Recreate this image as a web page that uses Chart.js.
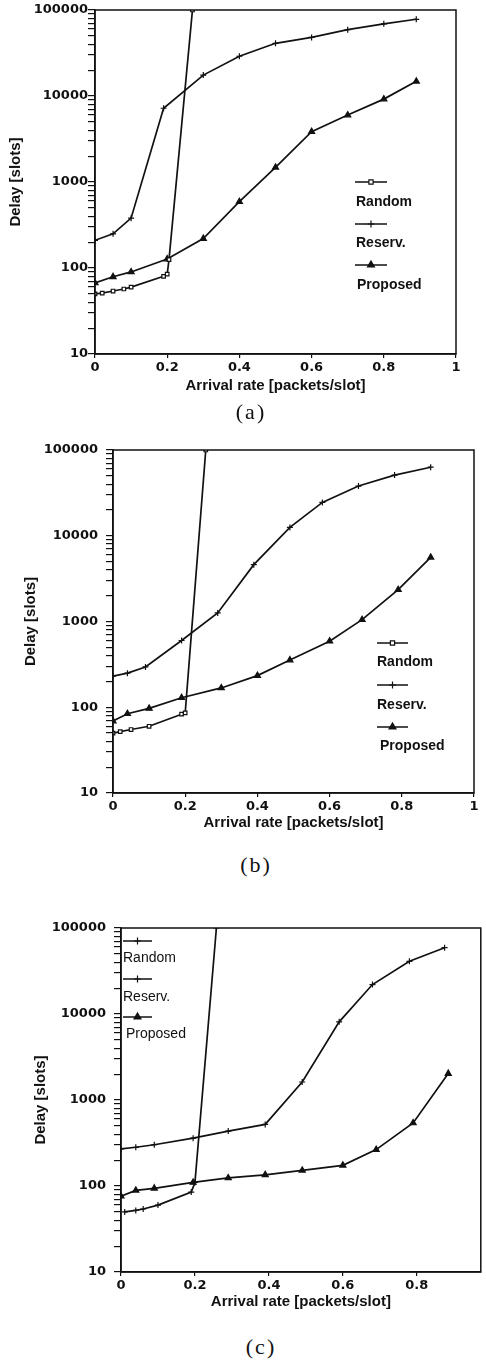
<!DOCTYPE html>
<html><head><meta charset="utf-8">
<script src="https://cdn.jsdelivr.net/npm/chart.js@4.4.1/dist/chart.umd.min.js"></script>
<style>
html,body{margin:0;padding:0;background:#fff;}
body{width:486px;height:1365px;position:relative;overflow:hidden;}
canvas{position:absolute;left:0;}
.cap{position:absolute;font-family:"Liberation Serif","DejaVu Serif",serif;font-size:22px;letter-spacing:2px;color:#111;transform:translate(-50%,-50%);white-space:nowrap;}
</style></head><body>
<canvas id="ca" width="486" height="400" style="top:0px;width:486px;height:400px"></canvas>
<div class="cap" style="left:251px;top:412px">(a)</div>
<canvas id="cb" width="486" height="400" style="top:440px;width:486px;height:400px"></canvas>
<div class="cap" style="left:256px;top:865px">(b)</div>
<canvas id="cc" width="486" height="420" style="top:900px;width:486px;height:420px"></canvas>
<div class="cap" style="left:261px;top:1347px">(c)</div>
<script>
// ---- data ----
const seriesLabels = ['Random', 'Reserv.', 'Proposed'];
const yTickValues = [10, 100, 1000, 10000, 100000];
const yTickLabels = ['10', '100', '1000', '10000', '100000'];
const xTickValuesAB = [0, 0.2, 0.4, 0.6, 0.8, 1];
const xTickLabelsAB = ['0', '0.2', '0.4', '0.6', '0.8', '1'];
const xTickValuesC = [0, 0.2, 0.4, 0.6, 0.8];
const xTickLabelsC = ['0', '0.2', '0.4', '0.6', '0.8'];
const yTitle = 'Delay [slots]';
const xTitle = 'Arrival rate [packets/slot]';

// (a)
const aRandomX = [0, 0.02, 0.05, 0.08, 0.1, 0.19, 0.2, 0.205, 0.27];
const aRandomY = [50, 51, 54, 57, 60, 80, 85, 125, 100000];
const aReservX = [0, 0.05, 0.1, 0.19, 0.3, 0.4, 0.5, 0.6, 0.7, 0.8, 0.89];
const aReservY = [210, 250, 380, 7200, 17500, 29000, 41000, 48000, 59000, 69000, 78000];
const aProposedX = [0, 0.05, 0.1, 0.2, 0.3, 0.4, 0.5, 0.6, 0.7, 0.8, 0.89];
const aProposedY = [67, 79, 90, 127, 220, 590, 1480, 3850, 6000, 9200, 14800];
// (b)
const bRandomX = [0, 0.02, 0.05, 0.1, 0.19, 0.2, 0.257];
const bRandomY = [50, 52, 55, 60, 83, 86, 100000];
const bReservX = [0, 0.04, 0.09, 0.19, 0.29, 0.39, 0.49, 0.58, 0.68, 0.78, 0.88];
const bReservY = [230, 250, 295, 600, 1260, 4600, 12500, 24500, 38000, 51000, 63000];
const bProposedX = [0, 0.04, 0.1, 0.19, 0.3, 0.4, 0.49, 0.6, 0.69, 0.79, 0.88];
const bProposedY = [69, 84, 97, 129, 168, 234, 355, 590, 1050, 2350, 5600];
// (c)
const cRandomX = [0.01, 0.04, 0.06, 0.1, 0.19, 0.2, 0.258];
const cRandomY = [50, 52, 54, 60, 85, 110, 100000];
const cReservX = [0, 0.04, 0.09, 0.195, 0.29, 0.39, 0.49, 0.59, 0.68, 0.78, 0.875];
const cReservY = [270, 282, 302, 360, 435, 520, 1620, 8100, 22000, 41000, 59000];
const cProposedX = [0, 0.04, 0.09, 0.195, 0.29, 0.39, 0.49, 0.6, 0.69, 0.79, 0.885];
const cProposedY = [76, 89, 94, 110, 124, 135, 152, 174, 265, 540, 2030];

// ---- helpers ----
function pts(xs, ys) { return xs.map((x, i) => ({ x: x, y: ys[i] })); }

function minorTicks(decades) {
  const out = [];
  for (let i = 0; i < decades.length - 1; i++) {
    for (let m = 1; m <= 9; m++) out.push({ value: decades[i] * m });
  }
  out.push({ value: decades[decades.length - 1] });
  return out;
}

const tickFont = { family: '"DejaVu Sans", sans-serif', size: 13, weight: 'bold' };
const titleFont = { family: '"Liberation Sans", Arial, sans-serif', size: 15, weight: 'bold' };

function makeChart(id, L, series, xTicks, xLabels) {
  const styles = L.styles;
  const datasets = series.map((s, i) => ({
    label: seriesLabels[i],
    data: pts(s[0], s[1]),
    borderColor: '#111',
    borderWidth: 1.7,
    backgroundColor: styles[i].fill,
    pointBackgroundColor: styles[i].fill,
    pointBorderColor: '#111',
    pointBorderWidth: 1.2,
    pointStyle: styles[i].style,
    pointRadius: styles[i].r,
    tension: 0,
    fill: false
  }));
  const framePlugin = {
    id: 'frame' + id,
    afterDraw(chart) {
      const ctx = chart.ctx, a = chart.chartArea;
      ctx.save();
      ctx.strokeStyle = '#111';
      ctx.lineWidth = 1.5;
      ctx.strokeRect(a.left, a.top, a.right - a.left, a.bottom - a.top);
      // legend inside plot
      const lg = L.legend;
      ctx.font = lg.font;
      ctx.fillStyle = '#111';
      ctx.textBaseline = 'middle';
      ctx.textAlign = 'left';
      seriesLabels.forEach((lab, i) => {
        const row = lg.rows[i];
        ctx.beginPath();
        ctx.lineWidth = 1.5;
        ctx.strokeStyle = '#111';
        ctx.moveTo(lg.x1, row[0]);
        ctx.lineTo(lg.x2, row[0]);
        ctx.stroke();
        ctx.fillStyle = styles[i].fill;
        ctx.strokeStyle = '#111';
        ctx.lineWidth = 1.2;
        Chart.helpers.drawPoint(ctx, { pointStyle: styles[i].style, radius: styles[i].r + 0.5, rotation: 0, borderWidth: 1.2 }, (lg.x1 + lg.x2) / 2, row[0]);
        ctx.fillStyle = '#111';
        ctx.fillText(lab, lg.tx + (i === 2 ? lg.pdx : 0), row[1]);
      });
      ctx.restore();
    }
  };
  return new Chart(document.getElementById(id), {
    type: 'line',
    data: { datasets: datasets },
    plugins: [framePlugin],
    options: {
      responsive: false,
      animation: false,
      events: [],
      layout: { padding: L.pad },
      plugins: { legend: { display: false }, tooltip: { enabled: false } },
      scales: {
        x: {
          type: 'linear',
          min: 0,
          max: L.xMax,
          afterBuildTicks(s) { s.ticks = xTicks.map(v => ({ value: v })); },
          afterFit(s) { s.height = L.xH; },
          ticks: {
            autoSkip: false,
            maxRotation: 0,
            padding: 2,
            color: '#111',
            font: tickFont,
            callback(v) { const i = xTicks.indexOf(v); return i >= 0 ? xLabels[i] : ''; }
          },
          grid: { display: true, drawOnChartArea: false, drawTicks: true, tickLength: 4, color: '#111', lineWidth: 1.2 },
          border: { display: true, color: '#111', width: 1.5 },
          title: { display: true, text: xTitle, color: '#111', font: titleFont, padding: { top: 0, bottom: L.xTitlePad } }
        },
        y: {
          type: 'logarithmic',
          min: 10,
          max: 100000,
          afterBuildTicks(s) { s.ticks = minorTicks(yTickValues); },
          afterFit(s) { s.width = L.yW; s.paddingTop = Math.min(s.paddingTop, 8); s.paddingBottom = Math.min(s.paddingBottom, 8); },
          ticks: {
            autoSkip: false,
            padding: L.yTickPad,
            color: '#111',
            font: tickFont,
            callback(v) { const i = yTickValues.indexOf(v); return i >= 0 ? yTickLabels[i] : ''; }
          },
          grid: { display: true, drawOnChartArea: false, drawTicks: true, tickLength: 7, color: '#111', lineWidth: 1.2 },
          border: { display: true, color: '#111', width: 1.5 },
          title: { display: true, text: yTitle, color: '#111', font: titleFont, padding: { top: L.yTitlePad, bottom: 0 } }
        }
      }
    }
  });
}

const openSq = { style: 'rect', fill: '#fff', r: 2.5 };
const crossP = { style: 'cross', fill: '#111', r: 3 };
const triP = { style: 'triangle', fill: '#111', r: 3.5 };

makeChart('ca', {
  pad: { top: 10, left: 0, right: 30, bottom: 0 }, yW: 95, xH: 46, yTitlePad: 7, xTitlePad: 5, xMax: 1, yTickPad: 0,
  styles: [openSq, crossP, triP],
  legend: { x1: 355, x2: 387, tx: 356, pdx: 1, rows: [[182, 202], [224, 243], [265, 285]], font: 'bold 14px "Liberation Sans", Arial, sans-serif' }
}, [[aRandomX, aRandomY], [aReservX, aReservY], [aProposedX, aProposedY]], xTickValuesAB, xTickLabelsAB);

makeChart('cb', {
  pad: { top: 10, left: 19, right: 12, bottom: 0 }, yW: 94, xH: 47, yTitlePad: 3, xTitlePad: 8, xMax: 1, yTickPad: 8,
  styles: [openSq, crossP, triP],
  legend: { x1: 377, x2: 408, tx: 377, pdx: 3, rows: [[203, 222], [245, 265], [287, 306]], font: 'bold 14px "Liberation Sans", Arial, sans-serif' }
}, [[bRandomX, bRandomY], [bReservX, bReservY], [bProposedX, bProposedY]], xTickValuesAB, xTickLabelsAB);

makeChart('cc', {
  pad: { top: 28, left: 27, right: 5, bottom: 0 }, yW: 94, xH: 48, yTitlePad: 5, xTitlePad: 9, xMax: 0.973, yTickPad: 8,
  styles: [crossP, crossP, triP],
  legend: { x1: 123, x2: 152, tx: 123, pdx: 3, rows: [[41, 58], [79, 97], [117, 134]], font: '14px "Liberation Sans", Arial, sans-serif' }
}, [[cRandomX, cRandomY], [cReservX, cReservY], [cProposedX, cProposedY]], xTickValuesC, xTickLabelsC);
</script>
</body></html>
